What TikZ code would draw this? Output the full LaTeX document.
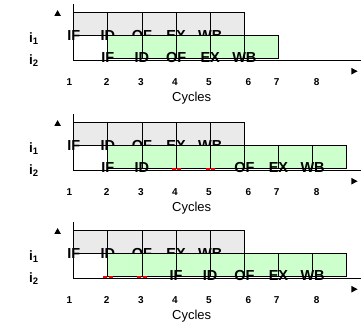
\documentclass[tikz,border=0pt]{standalone}
\usepackage{fontspec}
\setmainfont{Liberation Sans}
\usetikzlibrary{positioning}
\definecolor{stagegray}{RGB}{234,234,234}
\definecolor{stagegreen}{RGB}{204,255,204}

\begin{document}
\begin{tikzpicture}[x=1pt, y=-1pt,
    stage/.style={inner sep=0pt, font=\fontsize{14.5}{14.5}\selectfont\bfseries},
    ilabel/.style={inner sep=0pt, anchor=base, font=\fontsize{13.5}{14}\selectfont\bfseries},
    cycnum/.style={inner sep=0pt, font=\fontsize{10}{10}\selectfont\bfseries},
    cyctext/.style={inner sep=0pt, font=\fontsize{13}{13}\selectfont},
    graycell/.style={draw=black, fill=stagegray, line width=0.8pt},
    greencell/.style={draw=black, fill=stagegreen, line width=0.8pt},
    axis/.style={line width=0.8pt},
    stall/.style={red, line width=2pt},
    tip/.style={fill=black}]

    % canvas
    \useasboundingbox (0,0) rectangle (361,322);

    % axes, first instruction and labels of the three charts
    \foreach \p/\oy in {1/12.7, 2/122.7, 3/230.7} {
        \begin{scope}[shift={(0,\oy)}]
            \draw[axis] (73.7,-8.3) -- (73.7,47.5) -- (361,47.5);
            \fill[tip] (54.3,3.2) -- (60.9,3.2) -- (57.6,-2.6) -- cycle;
            \fill[tip] (351.4,55.2) -- (351.4,61.8) -- (357.6,58.5) -- cycle;
            \foreach \k in {0,...,4}
                \draw[graycell] ({73.7+34.125*\k},0) rectangle ++(34.125,22.7);
            \foreach \s [count=\k from 0] in {IF,ID,OF,EX,WB}
                \node[stage] (a\p\s) at ({73.7+34.125*\k},22.7) {\s};
            \node[ilabel] (ia\p) at (33.8,29.3) {i\textsubscript{1}};
            \node[ilabel] (ib\p) at (33.8,51.7) {i\textsubscript{2}};
            \foreach \n/\x in {1/69.3, 2/106.7, 3/141, 4/175, 5/209, 6/248.3, 7/276.7, 8/316.7}
                \node[cycnum] (n\p\n) at (\x,69.3) {\n};
            \node[cyctext] (cyc\p) at (191.7,85.5) {Cycles};
        \end{scope}
    }

    % second instruction, no stall
    \begin{scope}[shift={(0,12.7)}]
        \foreach \k in {1,...,5}
            \draw[greencell] ({73.7+34.125*\k},22.7) rectangle ++(34.125,22.5);
        \foreach \s [count=\k] in {IF,ID,OF,EX,WB}
            \node[stage] (b1\s) at ({73.7+34.125*\k},45.2) {\s};
    \end{scope}

    % second instruction, stalled after ID
    \begin{scope}[shift={(0,122.7)}]
        \foreach \k in {1,...,7}
            \draw[greencell] ({73.7+34.125*\k},22.7) rectangle ++(34.125,22.5);
        \foreach \s/\k in {IF/1, ID/2, OF/5, EX/6, WB/7}
            \node[stage] (b2\s) at ({73.7+34.125*\k},45.2) {\s};
        \foreach \k in {3,4}
            \draw[stall] ({73.7+34.125*\k-4.5},46.2) -- ++(4,0) ++(1.3,0) -- ++(4,0);
    \end{scope}

    % second instruction, stalled before IF
    \begin{scope}[shift={(0,230.7)}]
        \foreach \k in {1,...,7}
            \draw[greencell] ({73.7+34.125*\k},22.7) rectangle ++(34.125,22.5);
        \foreach \s/\k in {IF/3, ID/4, OF/5, EX/6, WB/7}
            \node[stage] (b3\s) at ({73.7+34.125*\k},45.2) {\s};
        \foreach \k in {1,2}
            \draw[stall] ({73.7+34.125*\k-4.5},46.2) -- ++(4,0) ++(1.3,0) -- ++(4,0);
    \end{scope}
\end{tikzpicture}
\end{document}
